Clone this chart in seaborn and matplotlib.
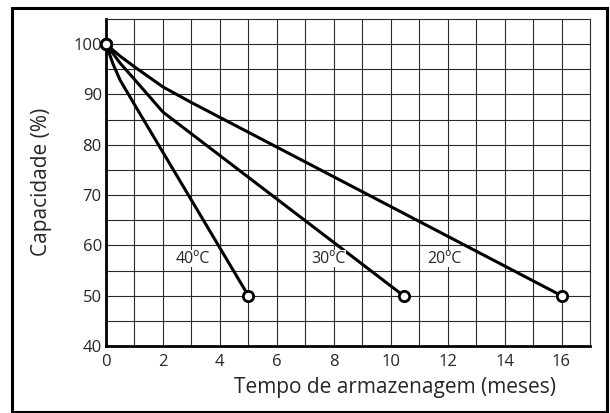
import numpy as np
import pandas as pd
import matplotlib
matplotlib.use('Agg')
import matplotlib.pyplot as plt
import matplotlib.patches as patches
from matplotlib.ticker import MultipleLocator
import seaborn as sns

# values
temps = ['20ºC', '30ºC', '40ºC']
meses_20 = [0, 0.5, 1, 2, 3, 16]
cap_20 = [100, 97.6, 95.5, 91.5, 88.4, 50]
meses_30 = [0, 0.5, 1, 2, 10.45]
cap_30 = [100, 96.2, 93.0, 86.5, 50]
meses_40 = [0, 0.25, 0.5, 1, 5]
cap_40 = [100, 96.0, 92.8, 88.0, 50]
label_x = [11.9, 7.8, 3.05]
label_y = [57.3, 57.3, 57.3]

sns.set_style('white')
plt.rcParams['font.family'] = ['Open Sans', 'DejaVu Sans']

frames = []
for t, xs, ys in zip(temps, [meses_20, meses_30, meses_40], [cap_20, cap_30, cap_40]):
    frames.append(pd.DataFrame({'meses': xs, 'cap': ys, 'temp': t}))
df = pd.concat(frames, ignore_index=True)

fig = plt.figure(figsize=(6.1, 4.13), dpi=100)
ax = fig.add_axes([106 / 610, 67 / 413, 484 / 610, 327 / 413])

# grid behind the curves
ax.set_xlim(0, 17)
ax.set_ylim(40, 105)
ax.xaxis.set_major_locator(MultipleLocator(2))
ax.xaxis.set_minor_locator(MultipleLocator(0.5))
ax.yaxis.set_major_locator(MultipleLocator(10))
ax.yaxis.set_minor_locator(MultipleLocator(2.5))
for gx in np.arange(1, 17, 1):
    ax.axvline(gx, color='#2a2a2a', lw=0.8, zorder=1)
for gy in np.arange(45, 105, 5):
    ax.axhline(gy, color='#2a2a2a', lw=0.8, zorder=1)

sns.lineplot(data=df, x='meses', y='cap', units='temp', estimator=None, sort=False,
             color='black', lw=2.2, ax=ax, zorder=3)

# open circles at start and end of each curve
ends = df.groupby('temp').agg(x0=('meses', 'first'), y0=('cap', 'first'),
                              x1=('meses', 'last'), y1=('cap', 'last'))
pts_x = list(ends['x0']) + list(ends['x1'])
pts_y = list(ends['y0']) + list(ends['y1'])
ax.scatter(pts_x, pts_y, s=55, facecolor='white', edgecolor='black', linewidth=2.0,
           zorder=4, clip_on=False)

for t, lx, ly in zip(temps, label_x, label_y):
    ax.text(lx, ly, t, ha='center', va='center', fontsize=11.5, zorder=5,
            bbox=dict(facecolor='white', edgecolor='none', pad=0.3))

ax.tick_params(axis='both', which='both', direction='in', color='black', labelsize=12)
ax.tick_params(axis='both', which='major', length=0, width=1)
ax.tick_params(axis='both', which='minor', length=7, width=1)
ax.tick_params(axis='y', which='major', pad=3)
ax.tick_params(axis='x', which='major', pad=6)

for side in ['left', 'bottom']:
    ax.spines[side].set_linewidth(2)
    ax.spines[side].set_color('black')
for side in ['top', 'right']:
    ax.spines[side].set_linewidth(0.8)
    ax.spines[side].set_color('#2a2a2a')

ax.set_xlabel('')
ax.set_ylabel('')
fig.text(395 / 610, 1 - 388 / 413, 'Tempo de armazenagem (meses)', ha='center', va='center', fontsize=15)
fig.text(42 / 610, 1 - 182 / 413, 'Capacidade (%)', ha='center', va='center', rotation=90, fontsize=15)

# outer frame
fig.patches.append(patches.Rectangle((12 / 610, 1 / 413), 595 / 610, 404 / 413,
                                     transform=fig.transFigure, fill=False,
                                     edgecolor='black', lw=2.2))

fig.savefig('out.png', dpi=100)
